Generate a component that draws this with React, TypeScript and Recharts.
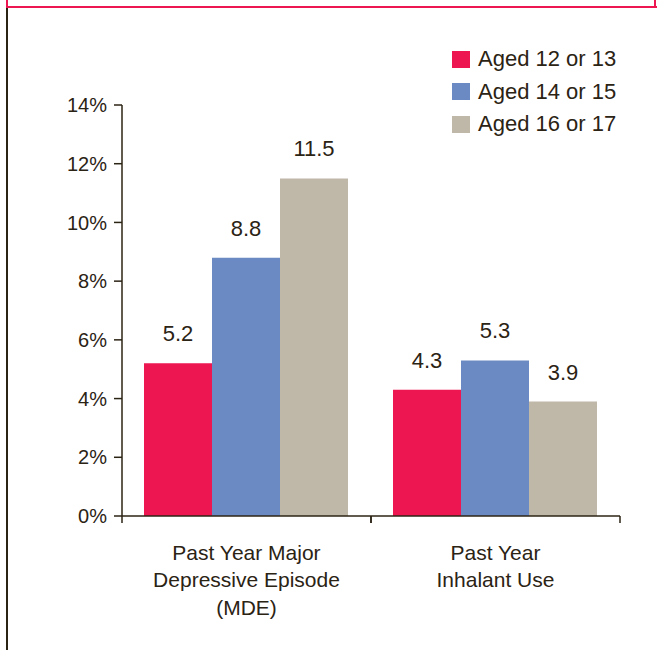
import React from "react";
import { BarChart, Bar, XAxis, YAxis, LabelList } from "recharts";

const categories = ["Past Year Major Depressive Episode (MDE)", "Past Year Inhalant Use"];
const categoryLines = [
  ["Past Year Major", "Depressive Episode", "(MDE)"],
  ["Past Year", "Inhalant Use"],
];
const aged12or13 = [5.2, 4.3];
const aged14or15 = [8.8, 5.3];
const aged16or17 = [11.5, 3.9];
const yTicks = [0, 2, 4, 6, 8, 10, 12, 14];

const SERIES = [
  { key: "a12", name: "Aged 12 or 13", color: "#EE1651" },
  { key: "a14", name: "Aged 14 or 15", color: "#6B8AC4" },
  { key: "a16", name: "Aged 16 or 17", color: "#BFB8A9" },
];

const TEXT = "#2B2314";
const FONT = "'Liberation Sans', Arial, Helvetica, sans-serif";

const data = categories.map((c, i) => ({
  name: c,
  a12: aged12or13[i],
  a14: aged14or15[i],
  a16: aged16or17[i],
}));

// category label (multi-line) plus boundary tick marks
function CategoryTick(props: any) {
  const { x, y, payload, index } = props;
  const half = payload?.offset || 124.5;
  const lines = categoryLines[index] || [String(payload.value)];
  return (
    <g>
      <line x1={x - half} x2={x - half} y1={y} y2={y + 7} stroke={TEXT} strokeWidth={1.5} />
      <line x1={x + half} x2={x + half} y1={y} y2={y + 7} stroke={TEXT} strokeWidth={1.5} />
      {lines.map((l: string, i: number) => (
        <text
          key={i}
          x={x}
          y={y + 43.5 + i * 27.5}
          textAnchor="middle"
          fill={TEXT}
          fontSize={21}
          fontFamily={FONT}
        >
          {l}
        </text>
      ))}
    </g>
  );
}

function LegendBox() {
  return (
    <div style={{ position: "absolute", left: 452, top: 43, fontFamily: FONT }}>
      {SERIES.map((s) => (
        <div key={s.key} style={{ display: "flex", alignItems: "center", height: 32.5 }}>
          <div style={{ width: 18, height: 17, background: s.color, marginRight: 8 }} />
          <span style={{ fontSize: 22, color: TEXT, whiteSpace: "nowrap" }}>{s.name}</span>
        </div>
      ))}
    </div>
  );
}

export default function App() {
  return (
    <div style={{ position: "absolute", left: 0, top: 0, width: 657, height: 650, background: "#fff", fontFamily: FONT }}>
      {/* frame */}
      <div style={{ position: "absolute", left: 6, top: 0, width: 2, height: 8, background: "#EE1651" }} />
      <div style={{ position: "absolute", left: 654, top: 0, width: 2, height: 8, background: "#EE1651" }} />
      <div style={{ position: "absolute", left: 6, top: 6, width: 651, height: 2, background: "#EE1651" }} />
      <div style={{ position: "absolute", left: 6, top: 8, width: 2, height: 642, background: TEXT }} />
      <BarChart
        width={657}
        height={650}
        data={data}
        margin={{ top: 105, right: 37, bottom: 0, left: 0 }}
        barCategoryGap={22}
        barGap={0}
      >
        <YAxis
          width={122}
          domain={[0, 14]}
          ticks={yTicks}
          interval={0}
          tickFormatter={(v: number) => `${v}%`}
          tick={{ fill: TEXT, fontSize: 20, fontFamily: FONT }}
          tickSize={8}
          tickMargin={7}
          axisLine={{ stroke: TEXT, strokeWidth: 1.5 }}
          tickLine={{ stroke: TEXT, strokeWidth: 1.5 }}
        />
        <XAxis
          dataKey="name"
          height={134}
          interval={0}
          tickSize={0}
          tickMargin={0}
          tickLine={false}
          axisLine={{ stroke: TEXT, strokeWidth: 1.5 }}
          tick={<CategoryTick />}
        />
        {SERIES.map((s) => (
          <Bar key={s.key} dataKey={s.key} name={s.name} fill={s.color} isAnimationActive={false}>
            <LabelList
              dataKey={s.key}
              position="top"
              offset={22}
              fill={TEXT}
              fontSize={22}
              fontFamily={FONT}
              formatter={(v: number) => v.toFixed(1)}
            />
          </Bar>
        ))}
      </BarChart>
      <LegendBox />
    </div>
  );
}
